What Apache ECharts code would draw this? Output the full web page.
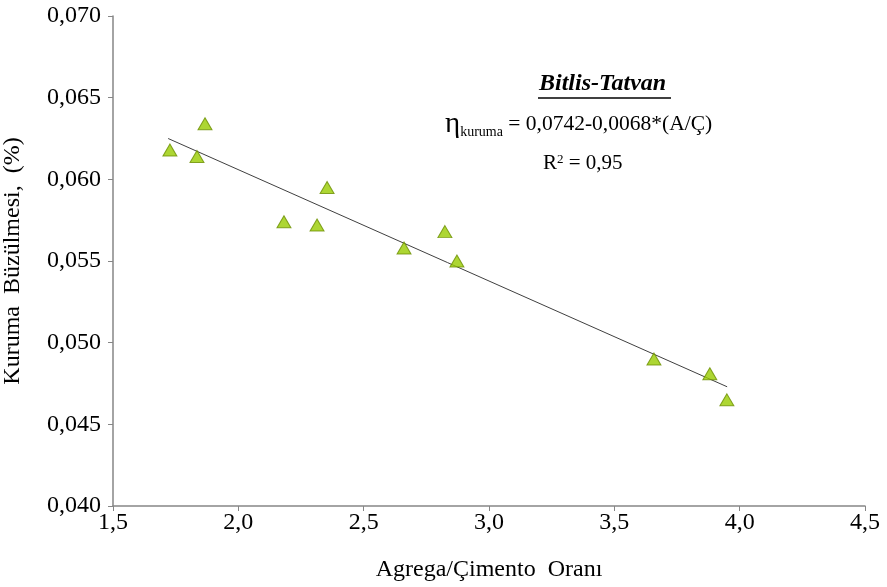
<!DOCTYPE html>
<html><head><meta charset="utf-8">
<script src="https://cdn.jsdelivr.net/npm/echarts@6/dist/echarts.min.js"></script>
<style>html,body{margin:0;padding:0;background:#fff}#c{width:887px;height:587px}</style>
</head><body><div id="c"></div>
<script>
const xValues = [1.727, 1.835, 1.867, 2.182, 2.314, 2.354, 2.661, 2.824, 2.872, 3.658, 3.881, 3.949];
const yValues = [0.0618, 0.0614, 0.0634, 0.0574, 0.0572, 0.0595, 0.0558, 0.0568, 0.0550, 0.0490, 0.0481, 0.0465];
const trendX = [1.72, 3.95];
const trendY = [0.0625, 0.0473];
const xTicks = [1.5, 2.0, 2.5, 3.0, 3.5, 4.0, 4.5];
const yTicks = [0.040, 0.045, 0.050, 0.055, 0.060, 0.065, 0.070];

const font = '"Liberation Serif", "Times New Roman", serif';
const chart = echarts.init(document.getElementById('c'));
chart.setOption({
  animation: false,
  backgroundColor: '#fff',
  grid: { left: 113, right: 22, top: 16, bottom: 81, outerBoundsMode: 'none', containLabel: false },
  xAxis: {
    type: 'value', min: xTicks[0], max: xTicks[xTicks.length-1], interval: 0.5,
    name: 'Agrega/Çimento  Oranı', nameLocation: 'middle', nameGap: 52,
    nameTextStyle: { fontFamily: font, fontSize: 24, color: '#000' },
    axisLine: { lineStyle: { color: '#868686', width: 1.5 } },
    axisTick: { show: true, length: 5, lineStyle: { color: '#868686' } },
    axisLabel: { fontFamily: font, fontSize: 24, color: '#000', margin: 5,
      formatter: v => v.toFixed(1).replace('.', ',') },
    splitLine: { show: false }
  },
  yAxis: {
    type: 'value', min: yTicks[0], max: yTicks[yTicks.length-1], interval: 0.005,
    name: 'Kuruma  Büzülmesi,  (%)', nameLocation: 'middle', nameGap: 88, nameRotate: 90,
    nameTextStyle: { fontFamily: font, fontSize: 24, color: '#000' },
    axisLine: { show: true, lineStyle: { color: '#868686', width: 1.5 } },
    axisTick: { show: true, length: 5, lineStyle: { color: '#868686' } },
    axisLabel: { fontFamily: font, fontSize: 24, color: '#000', margin: 12,
      formatter: v => v.toFixed(3).replace('.', ',') },
    splitLine: { show: false }
  },
  series: [
    {
      type: 'line', data: trendX.map((x, i) => [x, trendY[i]]),
      symbol: 'none', lineStyle: { color: '#404040', width: 1 }, z: 1
    },
    {
      type: 'scatter', data: xValues.map((x, i) => [x, yValues[i]]),
      symbol: 'triangle', symbolSize: [14, 12],
      itemStyle: { color: '#99cc00', borderColor: '#6b8e00', borderWidth: 1 }, z: 2
    }
  ],
  graphic: [
    { type: 'text', left: 539, top: 72, style: { text: 'Bitlis-Tatvan', fontFamily: font, fontSize: 24, fontWeight: 'bold', fontStyle: 'italic', fill: '#000' } },
    { type: 'line', shape: { x1: 538, y1: 98, x2: 671, y2: 98 }, style: { stroke: '#000', lineWidth: 1.5 } },
    { type: 'text', left: 445, top: 110, style: {
      text: '{e|η}{s|kuruma}{t| = 0,0742-0,0068*(A/Ç)}',
      rich: {
        e: { fontFamily: font, fontSize: 29, fill: '#000', verticalAlign: 'bottom' },
        s: { fontFamily: font, fontSize: 14, fill: '#000', verticalAlign: 'bottom' },
        t: { fontFamily: font, fontSize: 21.5, fill: '#000' }
      } } },
    { type: 'text', left: 543, top: 153, style: {
      text: '{t|R}{p|2}{t| = 0,95}',
      rich: {
        t: { fontFamily: font, fontSize: 21, fill: '#000' },
        p: { fontFamily: font, fontSize: 13, fill: '#000', verticalAlign: 'top' }
      } } }
  ]
});
</script></body></html>
